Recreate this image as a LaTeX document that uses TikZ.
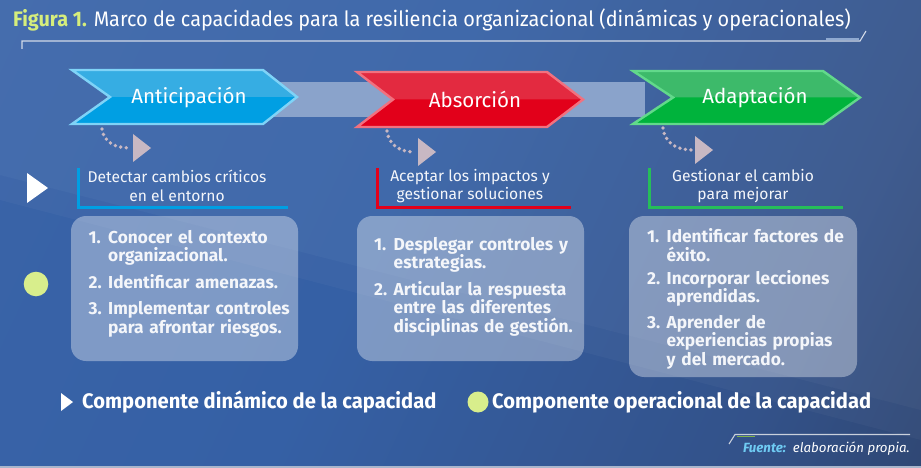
\documentclass[tikz,border=0pt]{standalone}
\usepackage{fontspec}
\setmainfont{Fira Sans}
\usetikzlibrary{calc}
\definecolor{bgA}{HTML}{3D66AA}
\definecolor{bgB}{HTML}{3560A5}
\definecolor{bgC}{HTML}{33528A}
\definecolor{bgD}{HTML}{2A3854}
\definecolor{blueTop}{HTML}{36ADE3}
\definecolor{blueBot}{HTML}{009FE3}
\definecolor{blueEdge}{HTML}{7FD3F7}
\definecolor{redTop}{HTML}{E32A40}
\definecolor{redBot}{HTML}{E2001A}
\definecolor{redEdge}{HTML}{F1717F}
\definecolor{greenTop}{HTML}{3DBA6A}
\definecolor{greenBot}{HTML}{00B33C}
\definecolor{greenEdge}{HTML}{62D98B}
\definecolor{bandCol}{HTML}{8AA3CB}
\definecolor{dotCol}{HTML}{C8B8C3}
\definecolor{lime}{HTML}{D8EE8C}
\definecolor{titleLime}{HTML}{D6EE7C}
\definecolor{lineCol}{HTML}{D2DAE8}
\definecolor{lineAcc}{HTML}{8FA9D0}
\definecolor{bottomLine}{HTML}{A9B6CC}
\definecolor{fuenteLine}{HTML}{C9D0DC}
\definecolor{fuenteGreen}{HTML}{7FB24A}
\definecolor{fuenteCol}{HTML}{6FCBF3}
\definecolor{textW}{HTML}{F4F6FA}
\pgfdeclarehorizontalshading{bgshade}{100bp}{color(0bp)=(bgA); color(45bp)=(bgB); color(72bp)=(bgC); color(100bp)=(bgD)}
\tikzset{
  boxfill/.style={fill=white, fill opacity=0.36, rounded corners=15pt},
  chevlabel/.style={text=white, font=\fontsize{20.5}{24}\selectfont, inner sep=0pt},
  desc/.style={text=textW, font=\fontsize{15.6}{18.5}\selectfont, align=center, inner sep=0pt},
  boxtext/.style={text=textW, font=\fontsize{17.3}{18.3}\selectfont\bfseries, align=left, inner sep=0pt, anchor=north west, text width=240pt},
  dotarrow/.style={dotCol, line width=3.8pt, line cap=round, dash pattern=on 0pt off 5.6pt},
  dottip/.style={fill=dotCol},
  bracket/.style={line width=3pt},
  legend/.style={text=white, font=\fontsize{21}{24}\selectfont\bfseries, inner sep=0pt, anchor=west},
}
\newcommand{\numit}[2]{\noindent\makebox[19.5pt][l]{#1}\parbox[t]{215pt}{\raggedright #2}\par}
\begin{document}
\begin{tikzpicture}[x=1pt,y=-1pt]
\useasboundingbox (0,0) rectangle (921,468);
% background
\shade[shading=bgshade, shading angle=-25] (0,0) rectangle (921,468);
\fill[white, opacity=0.06] (0,0) -- (921,0) -- (921,410) -- (0,175) -- cycle;
\fill[white, opacity=0.03] (0,175) -- (921,410) -- (921,440) -- (0,200) -- cycle;
\fill[bottomLine] (0,465.5) rectangle (921,468);
% title
\node[anchor=base west, inner sep=0pt, text=white] (title) at (13,27)
  {\scalebox{0.945}[1]{\fontsize{21}{24}\selectfont\textcolor{titleLime}{\bfseries Figura 1.} Marco de capacidades para la resiliencia organizacional (dinámicas y operacionales)}};
\draw[lineCol, line width=1.1pt] (22,49) -- (22,41) -- (860,41) -- (866,31);
\draw[lineAcc, line width=1.6pt] (826,38.8) -- (859,38.8);
% connector band
\fill[bandCol] (255,82) rectangle (645,117);
% chevrons
\coordinate (aTL) at (72,70); \coordinate (aTR) at (263,70); \coordinate (aTip) at (297,97);
\coordinate (aBR) at (263,124); \coordinate (aBL) at (72,124); \coordinate (aN) at (110,97);
\fill[blueBot] (aTL) -- (aTR) -- (aTip) -- (aBR) -- (aBL) -- (aN) -- cycle;
\fill[blueTop] (aTL) -- (aTR) -- (aTip) -- (aN) -- cycle;
\draw[blueEdge, line width=2.4pt, line join=miter] (aTL) -- (aTR) -- (aTip) -- (aBR) -- (aBL) -- (aN) -- cycle;
\node[chevlabel] (ant) at (189,97) {Anticipación};

\coordinate (bTL) at (357,72); \coordinate (bTR) at (547,72); \coordinate (bTip) at (583,99.5);
\coordinate (bBR) at (547,127); \coordinate (bBL) at (357,127); \coordinate (bN) at (393,99.5);
\fill[redBot] (bTL) -- (bTR) -- (bTip) -- (bBR) -- (bBL) -- (bN) -- cycle;
\fill[redTop] (bTL) -- (bTR) -- (bTip) -- (bN) -- cycle;
\draw[redEdge, line width=2.4pt, line join=miter] (bTL) -- (bTR) -- (bTip) -- (bBR) -- (bBL) -- (bN) -- cycle;
\node[chevlabel] (abs) at (475,99.5) {Absorción};

\coordinate (cTL) at (633,71); \coordinate (cTR) at (823,71); \coordinate (cTip) at (860,97.5);
\coordinate (cBR) at (823,124); \coordinate (cBL) at (633,124); \coordinate (cN) at (673,97.5);
\fill[greenBot] (cTL) -- (cTR) -- (cTip) -- (cBR) -- (cBL) -- (cN) -- cycle;
\fill[greenTop] (cTL) -- (cTR) -- (cTip) -- (cN) -- cycle;
\draw[greenEdge, line width=2.4pt, line join=miter] (cTL) -- (cTR) -- (cTip) -- (cBR) -- (cBL) -- (cN) -- cycle;
\node[chevlabel] (ada) at (755,97.5) {Adaptación};

% dotted arrows
\coordinate (d1s) at (102,129); \coordinate (d1e) at (130,148);
\draw[dotarrow] (d1s) .. controls (104,143) and (116,148) .. (d1e);
\fill[dottip] (133,134) -- (151,148) -- (133,162) -- cycle;
\coordinate (d2s) at (387,131); \coordinate (d2e) at (415,152);
\draw[dotarrow] (d2s) .. controls (389,146) and (401,152) .. (d2e);
\fill[dottip] (418,138) -- (436,152) -- (418,166) -- cycle;
\coordinate (d3s) at (663,128); \coordinate (d3e) at (692,150);
\draw[dotarrow] (d3s) .. controls (665,144) and (678,150) .. (d3e);
\fill[dottip] (695,136) -- (713,150) -- (695,164) -- cycle;

% brackets
\draw[bracket, blueBot] (78,168) -- (78,207) -- (288,207);
\draw[bracket, redBot] (377,168) -- (377,207) -- (571,207);
\draw[bracket, greenBot!85!white] (649,168) -- (649,207) -- (843,207);

% descriptions
\node[desc] (dA) at (177,186) {Detectar cambios críticos\\en el entorno};
\node[desc] (dB) at (470,186) {Aceptar los impactos y\\gestionar soluciones};
\node[desc] (dC) at (743,186) {Gestionar el cambio\\para mejorar};

% boxes
\fill[boxfill] (71,216) rectangle (298,361);
\fill[boxfill] (357,216) rectangle (584,361);
\fill[boxfill] (629,216) rectangle (857,377);

\node[boxtext] (tA) at (88.5,230) {%
\numit{1.}{Conocer el contexto\\organizacional.}\vspace{8pt}%
\numit{2.}{Identificar amenazas.}\vspace{8pt}%
\numit{3.}{Implementar controles\\para afrontar riesgos.}};
\node[boxtext] (tB) at (374,237) {%
\numit{1.}{Desplegar controles y\\estrategias.}\vspace{8pt}%
\numit{2.}{Articular la respuesta\\entre las diferentes\\disciplinas de gestión.}};
\node[boxtext] (tC) at (647,228.5) {%
\numit{1.}{Identificar factores de\\éxito.}\vspace{8pt}%
\numit{2.}{Incorporar lecciones\\aprendidas.}\vspace{8pt}%
\numit{3.}{Aprender de\\experiencias propias\\y del mercado.}};

% side markers
\fill[white] (27,173) -- (48,188) -- (27,203) -- cycle;
\fill[lime] (36,284) circle (12.3);

% legend
\fill[white] (61,393) -- (73,402) -- (61,411) -- cycle;
\node[legend] (l1) at (82,402) {\scalebox{0.96}[1]{Componente dinámico de la capacidad}};
\fill[lime] (478,402) circle (10.5);
\node[legend] (l2) at (492,402) {\scalebox{0.96}[1]{Componente operacional de la capacidad}};

% fuente
\draw[fuenteLine, line width=1.1pt] (729,444) -- (735,434.5) -- (910,434.5);
\draw[fuenteGreen, line width=1.3pt] (737,436.5) -- (755,436.5);
\node[anchor=base east, inner sep=0pt, font=\fontsize{13.3}{15}\selectfont\itshape, text=white] (fu) at (910,452)
  {\textcolor{fuenteCol}{\bfseries Fuente:}\ \ elaboración propia.};
\end{tikzpicture}
\end{document}
